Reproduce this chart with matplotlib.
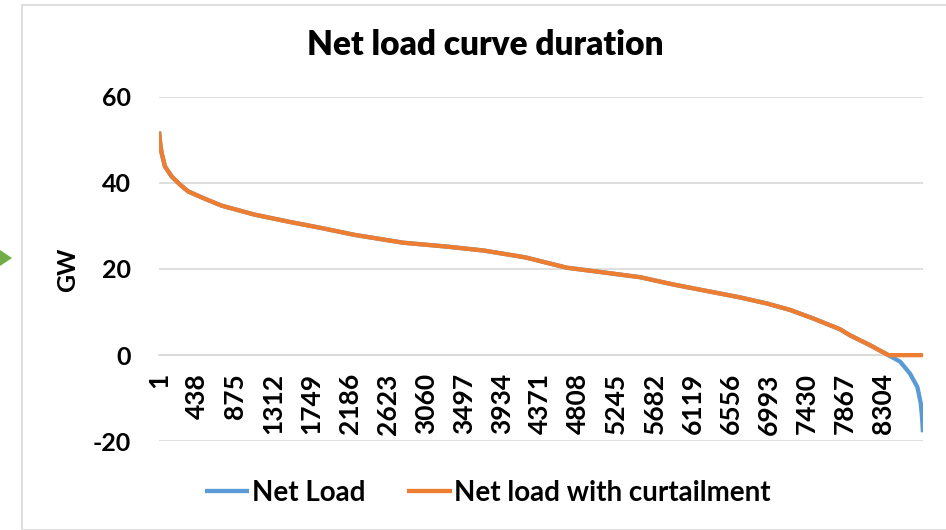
import matplotlib
matplotlib.use("Agg")
import matplotlib.pyplot as plt
from matplotlib.patches import Polygon, Rectangle

title = "Net load curve duration"
ylabel = "GW"
series_names = ["Net Load", "Net load with curtailment"]
colors = ["#5B9BD5", "#ED7D31"]

# hours of the year (sorted duration)
hours = [1, 15, 31, 69, 145, 241, 336, 527, 719, 1101, 1483, 1866, 2248, 2802,
         3300, 3719, 4200, 4676, 5100, 5516, 5898, 6281, 6663, 6969, 7236,
         7504, 7810, 7924, 8154, 8364, 8498, 8612, 8696, 8735, 8750, 8760]
net_load = [51.9, 49.0, 46.9, 43.8, 41.5, 39.6, 38.0, 36.3, 34.7, 32.6, 31.0,
            29.5, 27.9, 26.1, 25.2, 24.3, 22.7, 20.3, 19.2, 18.1, 16.4, 14.9,
            13.4, 12.0, 10.5, 8.5, 6.0, 4.6, 2.3, 0.0, -1.5, -4.3, -7.4,
            -11.2, -14.5, -17.9]
net_load_curt = [51.9, 49.0, 46.9, 43.8, 41.5, 39.6, 38.0, 36.3, 34.7, 32.6,
                 31.0, 29.5, 27.9, 26.1, 25.2, 24.3, 22.7, 20.3, 19.2, 18.1,
                 16.4, 14.9, 13.4, 12.0, 10.5, 8.5, 6.0, 4.6, 2.3, 0.0, 0.0,
                 0.0, 0.0, 0.0, 0.0, 0.0]
x_ticks = [1, 438, 875, 1312, 1749, 2186, 2623, 3060, 3497, 3934, 4371, 4808,
           5245, 5682, 6119, 6556, 6993, 7430, 7867, 8304]
y_ticks = [-20, 0, 20, 40, 60]

plt.rcParams['font.family'] = ['Lato', 'DejaVu Sans']
plt.rcParams['font.weight'] = 'bold'

W, H = 946, 530
fig = plt.figure(figsize=(W / 100, H / 100), dpi=100)
ax = fig.add_axes([159 / W, 1 - 441.3 / H, (923 - 159) / W, (441.3 - 96.7) / H])

grid_c = "#D9D9D9"
ax.plot(hours, net_load, color=colors[0], lw=3.1, label=series_names[0],
        solid_capstyle='butt', zorder=3)
ax.plot(hours, net_load_curt, color=colors[1], lw=3.1, label=series_names[1],
        solid_capstyle='butt', zorder=4)

for s in ['top', 'right', 'left']:
    ax.spines[s].set_visible(False)
ax.spines['bottom'].set_position(('data', 0))
ax.spines['bottom'].set_color(grid_c)
ax.spines['bottom'].set_linewidth(1.2)

ax.set_xlim(0.5, 8760.5)
ax.set_ylim(-20, 60)
ax.set_yticks(y_ticks)
ax.set_yticklabels([str(v) for v in y_ticks])
ax.set_xticks(x_ticks)
ax.set_xticklabels([str(v) for v in x_ticks])
ax.grid(axis='y', color=grid_c, lw=1.2, zorder=0)
ax.tick_params(axis='both', length=0)
ax.tick_params(axis='y', pad=20, labelsize=18)
ax.tick_params(axis='x', pad=13, labelrotation=90, labelsize=19)
for lab in ax.get_xticklabels() + ax.get_yticklabels():
    lab.set_fontweight('bold')
for lab in ax.get_xticklabels():
    lab.set_va('top')
    lab.set_ha('center')

fig.text(67.5 / W, 1 - 270 / H, ylabel, rotation=90, ha='center', va='center',
         fontsize=18, fontweight='bold')
fig.text(485 / W, 1 - 45 / H, title, ha='center', va='center', fontsize=24,
         fontweight='heavy')

fig.legend(loc='center', bbox_to_anchor=(488 / W, 1 - 493 / H), ncol=2,
           frameon=False, prop={'size': 20, 'weight': 'bold'},
           handlelength=1.6, handletextpad=0.1, columnspacing=1.5)

# chart border
fig.patches.append(Rectangle((22 / W, 0.5 / H), (W + 10) / W, (H - 5.5) / H,
                             transform=fig.transFigure, fill=False,
                             edgecolor="#D9D9D9", lw=1.2))
# small green marker at the left edge
fig.patches.append(Polygon([(0, 1 - 250 / H), (12 / W, 1 - 258 / H), (0, 1 - 266 / H)],
                           closed=True, transform=fig.transFigure,
                           facecolor="#70AD47", edgecolor='none'))

fig.savefig("out.png", dpi=100)
